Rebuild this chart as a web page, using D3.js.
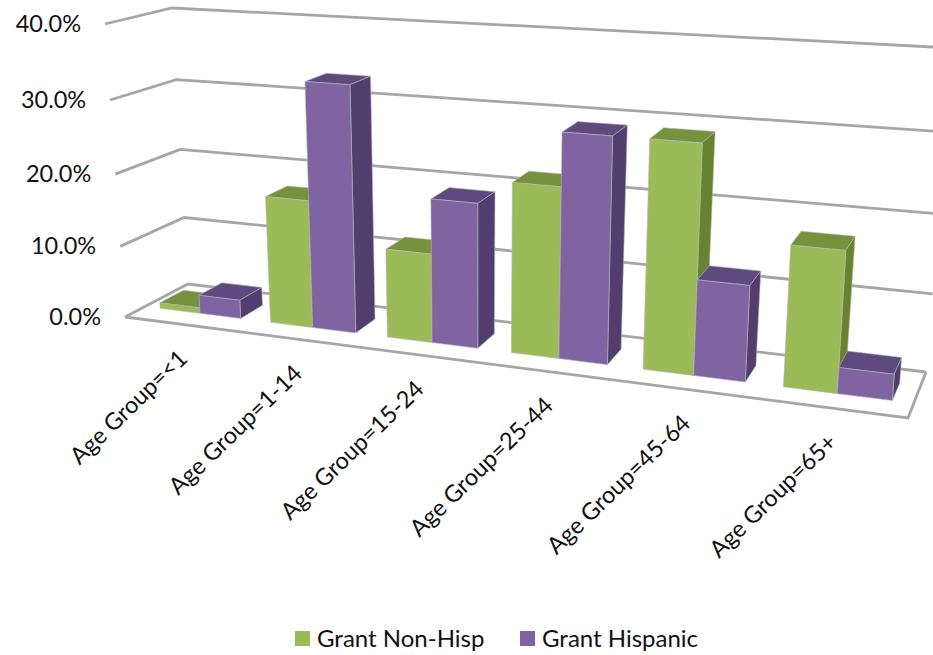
<!DOCTYPE html>
<html>
<head>
<meta charset="utf-8">
<script src="https://cdn.jsdelivr.net/npm/d3@7"></script>
<style>
  html, body { margin: 0; padding: 0; background: #fff; overflow: hidden; }
  text { font-family: Lato, "Noto Sans", sans-serif; fill: #111; }
  .grid { fill: none; stroke: #a6a6a6; stroke-width: 2.8; stroke-linejoin: miter; }
  .face { stroke: #b5b5b5; stroke-width: 0.6; stroke-linejoin: round; }
</style>
</head>
<body>
<svg class="chart" width="933" height="655"></svg>
<script>
const categories = ["Age Group=<1", "Age Group=1-14", "Age Group=15-24", "Age Group=25-44", "Age Group=45-64", "Age Group=65+"];
const seriesNames = ["Grant Non-Hisp", "Grant Hispanic"];
const nonHisp = [0.8, 17.5, 12.0, 22.4, 29.3, 17.8];
const hispanic = [2.6, 33.3, 19.3, 29.3, 12.3, 3.3];
const yTicks = [0, 10, 20, 30, 40];

const faceColors = {
  "Grant Non-Hisp": { front: "#9bbb59", top: "#76923c", side: "#67832f" },
  "Grant Hispanic": { front: "#8064a2", top: "#5f4a7f", side: "#523e6e" }
};
const seriesValues = { "Grant Non-Hisp": nonHisp, "Grant Hispanic": hispanic };

// corners of the 3d box on screen, floor and top, front and back
const box = {
  floor: { fl: [125, 317], bl: [188, 284], br: [926, 372], fr: [908, 418] },
  top: { fl: [105, 24], bl: [172, 8], br: [953, 48], fr: [931, 77] }
};

const xBand = d3.scaleBand().domain(categories).range([0, 1]).paddingInner(0.265).paddingOuter(0.14);
const serieBand = d3.scaleBand().domain(seriesNames).range([0, xBand.bandwidth()]);
const yScale = d3.scaleLinear().domain([0, 40]).range([0, 1]);
const barFront = 0.32, barBack = 0.7;

// perspective squeeze along an axis
const warp = (t, k) => t / (t + k * (1 - t));

const mix = (a, b, t) => [a[0] + (b[0] - a[0]) * t, a[1] + (b[1] - a[1]) * t];

function project(xt, value, depth) {
  const u = warp(xt, 1.2), v = warp(yScale(value), 1.05);
  const level = c => mix(mix(box.floor[c[0]], box.floor[c[1]], u), mix(box.top[c[0]], box.top[c[1]], u), v);
  return mix(level(["fl", "fr"]), level(["bl", "br"]), depth);
}

const svg = d3.select(".chart");
const line = d3.line();

// gridlines: side wall + back wall
svg.append("g").selectAll("path")
  .data(yTicks)
  .enter().append("path")
  .attr("class", "grid")
  .attr("d", d => line([project(0, d, 0), project(0, d, 1), project(1, d, 1)]));

// floor front and right edge
svg.append("path")
  .attr("class", "grid")
  .attr("d", line([project(0, 0, 0), project(1, 0, 0), project(1, 0, 1)]));

// y labels
svg.append("g").selectAll("text")
  .data(yTicks)
  .enter().append("text")
  .attr("x", d => project(0, d, 0)[0] - 24)
  .attr("y", d => project(0, d, 0)[1] + 8)
  .attr("text-anchor", "end")
  .attr("font-size", 23.5)
  .text(d => d.toFixed(1) + "%");

// bars
categories.forEach((cat, i) => {
  const g = svg.append("g").attr("class", "bar-group");
  seriesNames.forEach(name => {
    const x0 = xBand(cat) + serieBand(name);
    const x1 = x0 + serieBand.bandwidth();
    const val = seriesValues[name][i];
    const col = faceColors[name];
    const faces = [
      { fill: col.top, pts: [project(x0, val, barFront), project(x1, val, barFront), project(x1, val, barBack), project(x0, val, barBack)] },
      { fill: col.side, pts: [project(x1, 0, barFront), project(x1, val, barFront), project(x1, val, barBack), project(x1, 0, barBack)] },
      { fill: col.front, pts: [project(x0, 0, barFront), project(x1, 0, barFront), project(x1, val, barFront), project(x0, val, barFront)] }
    ];
    g.selectAll(null)
      .data(faces)
      .enter().append("path")
      .attr("class", "face")
      .attr("fill", d => d.fill)
      .attr("d", d => line(d.pts) + "Z");
  });
});

// category labels
svg.append("g").selectAll("text")
  .data(categories)
  .enter().append("text")
  .attr("transform", d => {
    const p = project(xBand(d) + xBand.bandwidth() / 2, 0, 0);
    return `translate(${p[0] + 8}, ${p[1] + 36}) rotate(-44)`;
  })
  .attr("text-anchor", "end")
  .attr("font-size", 23.5)
  .text(d => d);

// legend
const legendX = d3.scaleOrdinal().domain(seriesNames).range([295, 520]);
const legend = svg.append("g").selectAll("g")
  .data(seriesNames)
  .enter().append("g")
  .attr("transform", d => `translate(${legendX(d)}, 631)`);
legend.append("rect")
  .attr("width", 15).attr("height", 15)
  .attr("fill", d => faceColors[d].front);
legend.append("text")
  .attr("x", 22).attr("y", 15.5)
  .attr("font-size", 24)
  .text(d => d);
</script>
</body>
</html>
